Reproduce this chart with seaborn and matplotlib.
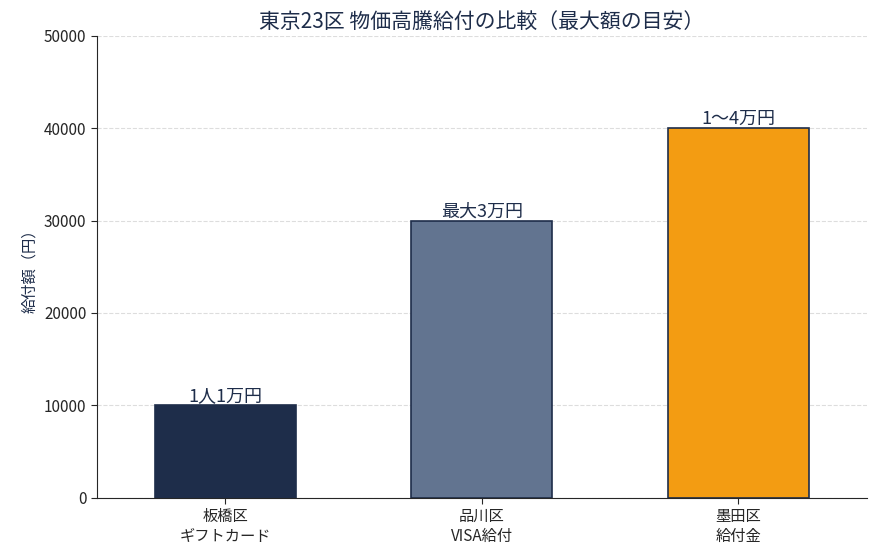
import matplotlib
matplotlib.use("Agg")
import matplotlib.pyplot as plt
import seaborn as sns
import pandas as pd

categories = ["板橋区\nギフトカード", "品川区\nVISA給付", "墨田区\n給付金"]
values = [10000, 30000, 40000]
labels = ["1人1万円", "最大3万円", "1〜4万円"]
colors = ["#1e2d4a", "#627490", "#f39c12"]

sns.set_style("white")
plt.rcParams['font.family'] = ['Noto Sans CJK JP', 'DejaVu Sans']

df = pd.DataFrame({"cat": categories, "val": values})
fig, ax = plt.subplots(figsize=(8.8, 5.53), dpi=100)
sns.barplot(data=df, x="cat", y="val", hue="cat", palette=colors, legend=False,
            width=0.55, edgecolor="#1e2d4a", linewidth=1.2, saturation=1, ax=ax)
for i, (v, l) in enumerate(zip(values, labels)):
    ax.text(i, v, l, ha="center", va="bottom", fontsize=13, color="#1e2d4a")
ax.set_ylim(0, 50000)
ax.set_yticks(range(0, 50001, 10000))
ax.grid(axis="y", linestyle="--", color="#dddddd", linewidth=0.8)
ax.set_axisbelow(True)
sns.despine(ax=ax)
ax.set_xlabel("")
ax.set_ylabel("給付額（円）", fontsize=11, color="#1e2d4a")
ax.set_title("東京23区 物価高騰給付の比較（最大額の目安）", fontsize=15, color="#1e2d4a")
ax.tick_params(axis="both", labelsize=11, left=True, bottom=True, length=4)
fig.subplots_adjust(left=0.11, right=0.985, top=0.935, bottom=0.1)
fig.savefig("out.png", dpi=100)
